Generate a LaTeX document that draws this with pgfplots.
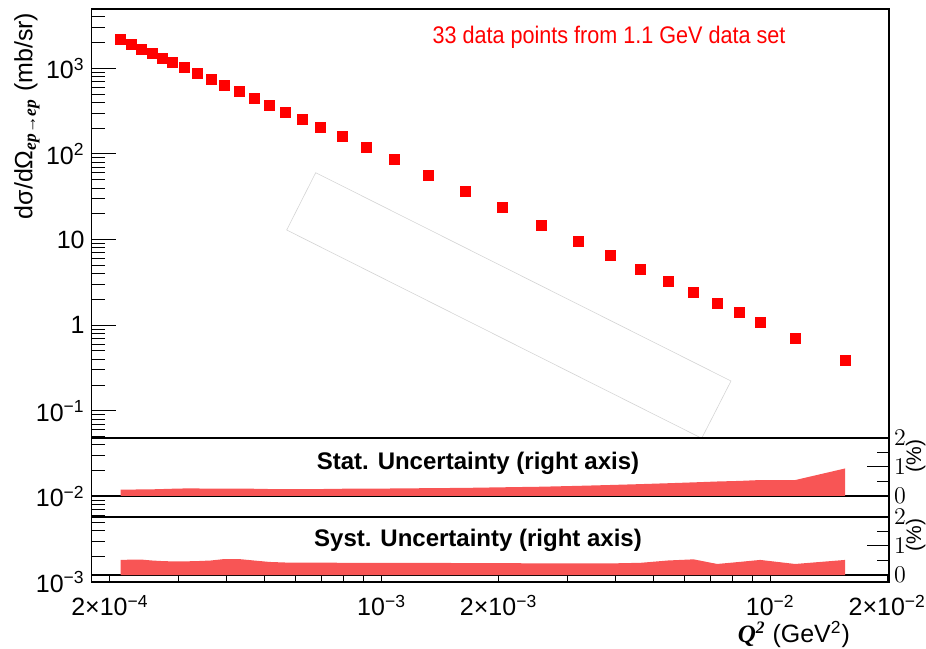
\documentclass[border=0pt]{standalone}
\usepackage{fontspec}
\setmainfont{Liberation Sans}
\newfontfamily\serifbi{Liberation Serif}
\usepackage{pgfplots}
\usepackage{pgfplotstable}
\pgfplotsset{compat=1.18}
\definecolor{bandred}{RGB}{248,85,85}
\definecolor{boxgray}{RGB}{212,212,212}

\pgfplotstableread{
x        y      stat  syst
2.130e-4 2160   0.22  0.52
2.274e-4 1909   0.22  0.53
2.416e-4 1681   0.23  0.53
2.568e-4 1482   0.23  0.50
2.726e-4 1320   0.24  0.48
2.887e-4 1185   0.25  0.47
3.107e-4 1016   0.26  0.47
3.362e-4 874    0.26  0.48
3.638e-4 750    0.25  0.50
3.936e-4 638    0.25  0.55
4.294e-4 532    0.25  0.55
4.693e-4 446    0.25  0.50
5.150e-4 369    0.24  0.45
5.662e-4 308    0.24  0.43
6.247e-4 253    0.24  0.43
6.967e-4 202    0.24  0.43
7.918e-4 158.5  0.25  0.42
9.129e-4 119.1  0.25  0.42
1.077e-3 85.3   0.26  0.42
1.323e-3 56.5   0.27  0.42
1.638e-3 36.7   0.28  0.41
2.043e-3 23.7   0.30  0.41
2.574e-3 14.8   0.32  0.40
3.204e-3 9.64   0.35  0.40
3.890e-3 6.50   0.38  0.40
4.638e-3 4.53   0.41  0.42
5.452e-3 3.25   0.44  0.50
6.349e-3 2.40   0.47  0.54
7.302e-3 1.81   0.50  0.38
8.318e-3 1.40   0.52  0.45
9.419e-3 1.077  0.55  0.52
1.159e-2 0.706  0.55  0.38
1.558e-2 0.384  0.95  0.52
}\datatable

\begin{document}
\begin{tikzpicture}
\path[use as bounding box] (0,0) rectangle (463pt,324pt);

% main panel
\begin{axis}[at={(45.85pt,33pt)}, anchor=south west, scale only axis,
  width=398.65pt, height=286.5pt,
  xmode=log, ymode=log, xmin=1.795e-4, xmax=2.02e-2, ymin=1e-3, ymax=4940,
  xtick=\empty,
  ytick={1e-3,1e-2,1e-1,1,10,100,1000},
  yticklabels={10\textsuperscript{−3},10\textsuperscript{−2},10\textsuperscript{−1},1,10,10\textsuperscript{2},10\textsuperscript{3}},
  minor ytick={2e-3,3e-3,4e-3,5e-3,6e-3,7e-3,8e-3,9e-3,
    2e-2,3e-2,4e-2,5e-2,6e-2,7e-2,8e-2,9e-2,
    0.2,0.3,0.4,0.5,0.6,0.7,0.8,0.9,2,3,4,5,6,7,8,9,
    20,30,40,50,60,70,80,90,200,300,400,500,600,700,800,900,2000,3000,4000},
  ytick pos=left, major tick length=12pt, minor tick length=6.5pt,
  tick style={black, line width=0.5pt},
  axis line style={line width=0.6pt},
  yticklabel style={font=\fontsize{12.5}{14}\selectfont},
]
\addplot[only marks, mark=square*, mark size=2.5pt, color=red] table[x=x,y=y] {\datatable};
\end{axis}

% rotated faint box
\draw[boxgray, line width=0.3pt] (157.85pt,237.65pt) -- (143.35pt,209pt) -- (350.85pt,104.85pt) -- (365.5pt,133.5pt) -- cycle;

% x ticks (short) with labels
\begin{axis}[at={(45.85pt,33pt)}, anchor=south west, scale only axis,
  width=398.65pt, height=286.5pt,
  xmode=log, xmin=1.795e-4, xmax=2.02e-2, ymin=0, ymax=1,
  axis line style={draw=none}, ytick=\empty,
  xtick={2e-4,1e-3,2e-3,1e-2,2e-2},
  xticklabels={2×10\textsuperscript{−4},10\textsuperscript{−3},2×10\textsuperscript{−3},10\textsuperscript{−2},2×10\textsuperscript{−2}},
  minor xtick={3e-4,4e-4,5e-4,6e-4,7e-4,8e-4,9e-4,3e-3,4e-3,5e-3,6e-3,7e-3,8e-3,9e-3},
  xtick pos=bottom, major tick length=3.5pt, minor tick length=3.5pt,
  tick style={black, line width=0.5pt},
  xticklabel style={font=\fontsize{12.5}{14}\selectfont, yshift=-3pt},
]
\end{axis}
% x ticks (long)
\begin{axis}[at={(45.85pt,33pt)}, anchor=south west, scale only axis,
  width=398.65pt, height=286.5pt,
  xmode=log, xmin=1.795e-4, xmax=2.02e-2, ymin=0, ymax=1,
  axis line style={draw=none}, ytick=\empty,
  xtick={1e-3,1e-2}, xticklabels={},
  xtick pos=bottom, major tick length=6pt,
  tick style={black, line width=0.5pt},
]
\end{axis}

% stat panel
\begin{axis}[at={(45.85pt,76pt)}, anchor=south west, scale only axis,
  width=398.65pt, height=29pt,
  xmode=log, xmin=1.795e-4, xmax=2.02e-2, ymin=0, ymax=2,
  xtick=\empty, ytick={0,1,2}, minor ytick={0.5,1.5},
  ytick pos=right, yticklabel pos=right,
  major tick length=11pt, minor tick length=6pt,
  tick style={black, line width=0.5pt},
  axis line style={line width=0.6pt},
  yticklabel style={font=\fontsize{12.5}{14}\selectfont, xshift=-1pt},
]
\addplot[fill=bandred, draw=none] table[x=x,y=stat] {\datatable} -- (axis cs:1.558e-2,0) -- (axis cs:2.130e-4,0) -- cycle;
\end{axis}

% syst panel
\begin{axis}[at={(45.85pt,36.5pt)}, anchor=south west, scale only axis,
  width=398.65pt, height=29pt,
  xmode=log, xmin=1.795e-4, xmax=2.02e-2, ymin=0, ymax=2,
  xtick=\empty, ytick={0,1,2}, minor ytick={0.5,1.5},
  ytick pos=right, yticklabel pos=right,
  major tick length=11pt, minor tick length=6pt,
  tick style={black, line width=0.5pt},
  axis line style={line width=0.6pt},
  yticklabel style={font=\fontsize{12.5}{14}\selectfont, xshift=-1pt},
]
\addplot[fill=bandred, draw=none] table[x=x,y=syst] {\datatable} -- (axis cs:1.558e-2,0) -- (axis cs:2.130e-4,0) -- cycle;
\end{axis}

% texts
\node[text=red, font=\fontsize{12}{14}\selectfont] at (304.5pt,305.5pt) {\scalebox{0.9}[1]{33 data points from 1.1 GeV data set}};
\node[font=\fontsize{12}{14}\selectfont\bfseries] at (239pt,92.5pt) {Stat. Uncertainty (right axis)};
\node[font=\fontsize{12}{14}\selectfont\bfseries] at (239pt,54pt) {Syst. Uncertainty (right axis)};
\node[rotate=90, font=\fontsize{12.5}{14}\selectfont] at (13.5pt,266pt) {dσ/dΩ\textsubscript{\serifbi\bfseries\itshape ep→ep} (mb/sr)};
\node[anchor=base east, font=\fontsize{12.5}{14}\selectfont] at (428.5pt,3pt) {{\serifbi\bfseries\itshape Q\textsuperscript{2}} (GeV\textsuperscript{2})};
\node[rotate=90, anchor=north east, inner sep=0pt, font=\fontsize{10.5}{12}\selectfont] at (452.8pt,104.5pt) {(\%)};
\node[rotate=90, anchor=north east, inner sep=0pt, font=\fontsize{10.5}{12}\selectfont] at (452.8pt,65pt) {(\%)};
\end{tikzpicture}
\end{document}
